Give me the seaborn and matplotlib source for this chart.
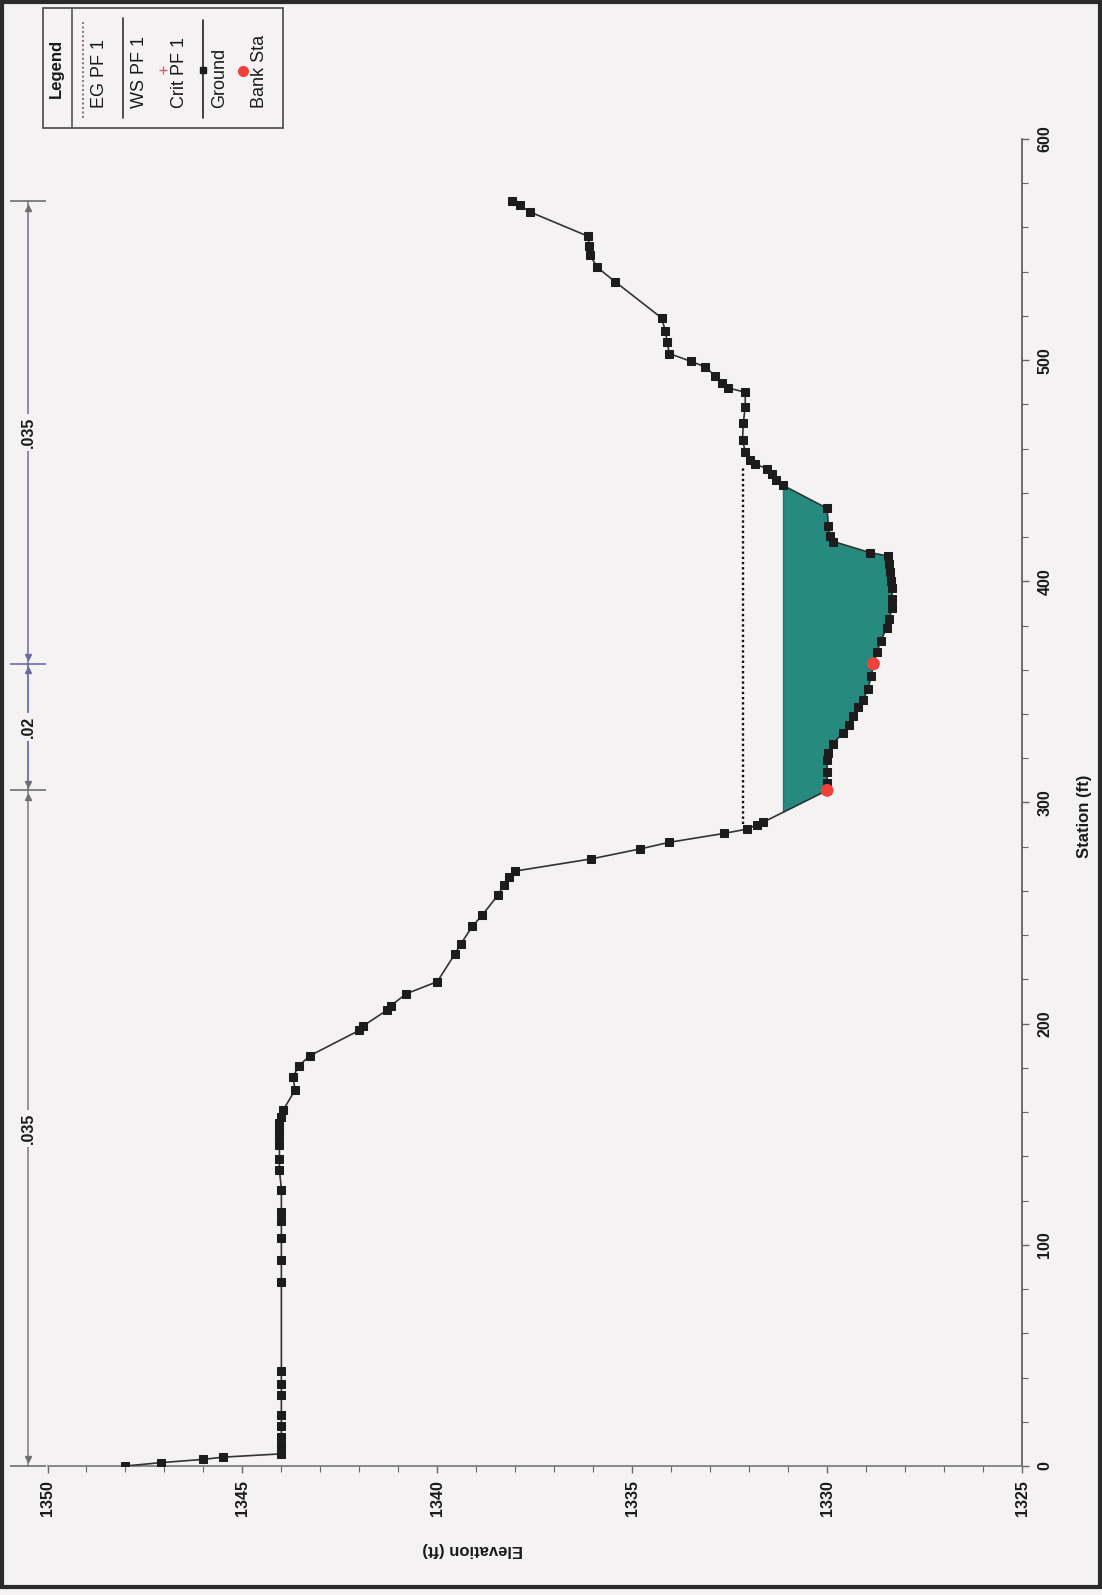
import matplotlib
matplotlib.use("Agg")
import matplotlib.pyplot as plt
import seaborn as sns
import numpy as np
import pandas as pd
from matplotlib.patches import Rectangle

# ground profile (station ft / elevation ft)
station = [0, 1.5, 3.0, 4.0, 5.5, 9, 13, 18, 23, 32, 37, 43, 83, 93, 103, 111, 115, 125,
           134, 139, 145, 149, 152, 155, 158, 161, 170, 176, 181, 185.5, 197, 199, 206, 208,
           213.5, 219, 231.5, 236, 244, 249, 258, 262.5, 266.5, 269, 274.5, 279, 282, 286,
           288, 290, 291, 305.5, 309, 314, 319, 322.5, 326.5, 331.5, 335, 339, 343, 346.5,
           351.5, 357, 362.7, 368, 373, 379, 383, 388, 392, 397, 400, 404, 408, 411.5, 413,
           418, 420.5, 425, 433, 443.5, 446, 448.5, 451, 453, 455, 458.5, 464, 471.5, 479,
           485.5, 487.5, 489.5, 493, 497, 499.5, 503, 508, 513, 519, 535.5, 542, 547.5,
           551.5, 556, 567, 570, 572]
elevation = [1348.0, 1347.1, 1346.0, 1345.5, 1344.0, 1344.0, 1344.0, 1344.0, 1344.0, 1344.0,
             1344.0, 1344.0, 1344.0, 1344.0, 1344.0, 1344.0, 1344.0, 1344.0,
             1344.05, 1344.05, 1344.05, 1344.05, 1344.05, 1344.05, 1344.0, 1343.95, 1343.65,
             1343.7, 1343.55, 1343.27, 1342.0, 1341.9, 1341.3, 1341.2, 1340.8, 1340.0,
             1339.55, 1339.4, 1339.1, 1338.85, 1338.45, 1338.3, 1338.15, 1338.0, 1336.05,
             1334.8, 1334.05, 1332.65, 1332.05, 1331.8, 1331.65, 1330.0, 1330.0, 1330.0,
             1330.0, 1329.97, 1329.85, 1329.6, 1329.45, 1329.33, 1329.2, 1329.07, 1328.95,
             1328.87, 1328.81, 1328.72, 1328.63, 1328.47, 1328.4, 1328.34, 1328.33, 1328.34,
             1328.36, 1328.39, 1328.41, 1328.45, 1328.9, 1329.84, 1329.93, 1329.97, 1330.0,
             1331.14, 1331.3, 1331.42, 1331.55, 1331.85, 1331.98, 1332.1, 1332.17, 1332.15,
             1332.1, 1332.1, 1332.55, 1332.7, 1332.88, 1333.13, 1333.5, 1334.05, 1334.1,
             1334.15, 1334.24, 1335.44, 1335.9, 1336.08, 1336.1, 1336.13, 1337.62, 1337.88,
             1338.09]

bank_station = [305.5, 362.7]
bank_elevation = [1330.0, 1328.81]
ws_elev = 1331.14
eg_elev = 1332.15
eg_station = [290.5, 451.5]

n_breaks = [0, 305.5, 362.7, 572]
n_values = [".035", ".02", ".035"]

elev_ticks = [1350, 1345, 1340, 1335, 1330, 1325]
sta_ticks = [0, 100, 200, 300, 400, 500, 600]
legend_labels = ["EG PF 1", "WS PF 1", "Crit PF 1", "Ground", "Bank Sta"]

sns.set_theme(style="white")
plt.rcParams['font.family'] = ['Liberation Sans', 'DejaVu Sans']

W, H = 1102, 1595
paper = '#f4f2f3'
fig = plt.figure(figsize=(W / 100, H / 100), dpi=100)
fig.patch.set_facecolor(paper)


def px_box(l, t, r, b):
    return [l / W, 1 - b / H, (r - l) / W, (b - t) / H]


# the chart is scanned rotated: elevation runs along the bottom, station up the right side
ax = fig.add_axes(px_box(47.5, 139, 1022, 1466))
ax.set_facecolor('none')

st = np.array(station)
el = np.array(elevation)

# water
ax.fill_betweenx(st, el, ws_elev, where=el < ws_elev, interpolate=True,
                 color='#268b7e', lw=0, zorder=2)
wet = np.where(np.diff(np.sign(el - ws_elev)) != 0)[0]
ws_ends = [st[i] + (ws_elev - el[i]) / (el[i + 1] - el[i]) * (st[i + 1] - st[i])
           for i in (wet[0], wet[-1])]
sns.lineplot(x=[ws_elev, ws_elev], y=ws_ends, sort=False, estimator=None,
             color='#2b6f8f', lw=1.0, ax=ax, zorder=3)

# energy grade
sns.lineplot(x=[eg_elev, eg_elev], y=eg_station, sort=False, estimator=None,
             color='#111111', lw=1.7, linestyle=(0, (1, 1.2)), ax=ax, zorder=3)

# ground
ground = pd.DataFrame({'Station': station, 'Elevation': elevation})
sns.lineplot(data=ground, x='Elevation', y='Station', sort=False, estimator=None,
             color='#333333', lw=1.2, marker='s', markersize=6,
             markerfacecolor='#1c1c1c', markeredgecolor='#1c1c1c', ax=ax, zorder=4)

# bank stations
sns.scatterplot(x=bank_elevation, y=bank_station, color='#f2403c', s=85,
                edgecolor='none', ax=ax, zorder=5)

ax.set_xlabel('')
ax.set_ylabel('')
ax.set_xlim(1350, 1325)
ax.set_ylim(0, 600)
ax.set_xticks(elev_ticks)
ax.set_xticks(np.arange(1325, 1351, 1), minor=True)
ax.set_yticks(sta_ticks)
ax.set_yticks(np.arange(0, 601, 20), minor=True)
ax.set_xticklabels([str(v) for v in elev_ticks])
ax.set_yticklabels([str(v) for v in sta_ticks])
ax.yaxis.tick_right()
for s in ['top', 'left']:
    ax.spines[s].set_visible(False)
ax.spines['bottom'].set_color('#777777')
ax.spines['right'].set_color('#555555')
ax.spines['bottom'].set_linewidth(1.2)
ax.spines['right'].set_linewidth(1.2)
ax.tick_params(axis='both', which='both', direction='out', colors='#666666',
               labelcolor='#1a1a1a', labelsize=11.5)
ax.tick_params(axis='x', which='both', bottom=True, top=False, labelrotation=90, pad=5)
ax.tick_params(axis='y', which='both', right=True, left=False, labelrotation=90, pad=6)
ax.tick_params(which='major', length=5, width=1)
ax.tick_params(which='minor', length=4, width=0.8)
for lbl in ax.get_xticklabels() + ax.get_yticklabels():
    lbl.set_fontweight('bold')
for lbl in ax.get_yticklabels():
    lbl.set_va('center')
ax.grid(False)

# Manning's n bracket along the (original) top of the plot
trans = ax.get_yaxis_transform()
xb = (28 - 47.5) / 974.5
seg_colors = ['#8e8e8e', '#6b6bab', '#8a809e']
for i, val in enumerate(n_values):
    a, b = n_breaks[i], n_breaks[i + 1]
    ax.plot([xb, xb], [a, b], color=seg_colors[i], lw=1.3, transform=trans, clip_on=False)
    ax.text(xb, (a + b) / 2, val, transform=trans, rotation=90, ha='center', va='center',
            fontsize=11.5, fontweight='bold', color='#1a1a1a', clip_on=False,
            bbox=dict(facecolor=paper, edgecolor='none', pad=2))
for j, s in enumerate(n_breaks):
    c = '#6b6bab' if s == n_breaks[2] else '#707070'
    ax.plot([xb], [s], marker='_', ms=26, mew=1.2, color=c, transform=trans, clip_on=False)
    if j > 0:
        ax.plot([xb], [s - 3], marker='^', ms=5, color=c, transform=trans, clip_on=False)
    if j < len(n_breaks) - 1:
        ax.plot([xb], [s + 3], marker='v', ms=5, color=c, transform=trans, clip_on=False)

# overlay in pixel units for the titles, legend and frame
ov = fig.add_axes([0, 0, 1, 1])
ov.set_xlim(0, W)
ov.set_ylim(H, 0)
ov.axis('off')
ov.patch.set_alpha(0)

ov.text(1085, 816, 'Station (ft)', rotation=90, ha='center', va='center',
        fontsize=12, fontweight='bold', color='#1a1a1a')
ov.text(473, 1549, 'Elevation (ft)', rotation=180, ha='center', va='center',
        fontsize=12, fontweight='bold', color='#1a1a1a')

# legend box (rotated like the rest of the scan)
ov.add_patch(Rectangle((43, 8), 240, 120, fill=False, ec='#555555', lw=1.3))
ov.plot([72, 72], [8, 128], color='#555555', lw=1.2)
ov.text(56, 68, 'Legend', rotation=90, ha='center', va='center', fontsize=12,
        fontweight='bold', color='#1a1a1a')
sample_x = [83, 123, 163, 203, 243]
for k, lab in enumerate(legend_labels):
    ov.text(sample_x[k] + 17, 108, lab, rotation=90, ha='center', va='bottom',
            fontsize=13, color='#1a1a1a')
ov.plot([83, 83], [22, 118], color='#8a6a7a', lw=1.4, linestyle=(0, (1, 1.3)))
ov.plot([123, 123], [18, 118], color='#333333', lw=1.2)
ov.plot([163], [70], marker='+', ms=6, color='#e06070', mew=1)
ov.plot([203, 203], [20, 118], color='#222222', lw=1.2)
ov.plot([203], [70], marker='s', ms=5, color='#1c1c1c')
ov.plot([243], [71], marker='o', ms=8, color='#f2403c', mec='none')

# scan frame
ov.add_patch(Rectangle((1.5, 1.5), W - 4, H - 10, fill=False, ec='#2a2a2a', lw=3))

fig.savefig('out.png', dpi=100, facecolor=fig.get_facecolor())
